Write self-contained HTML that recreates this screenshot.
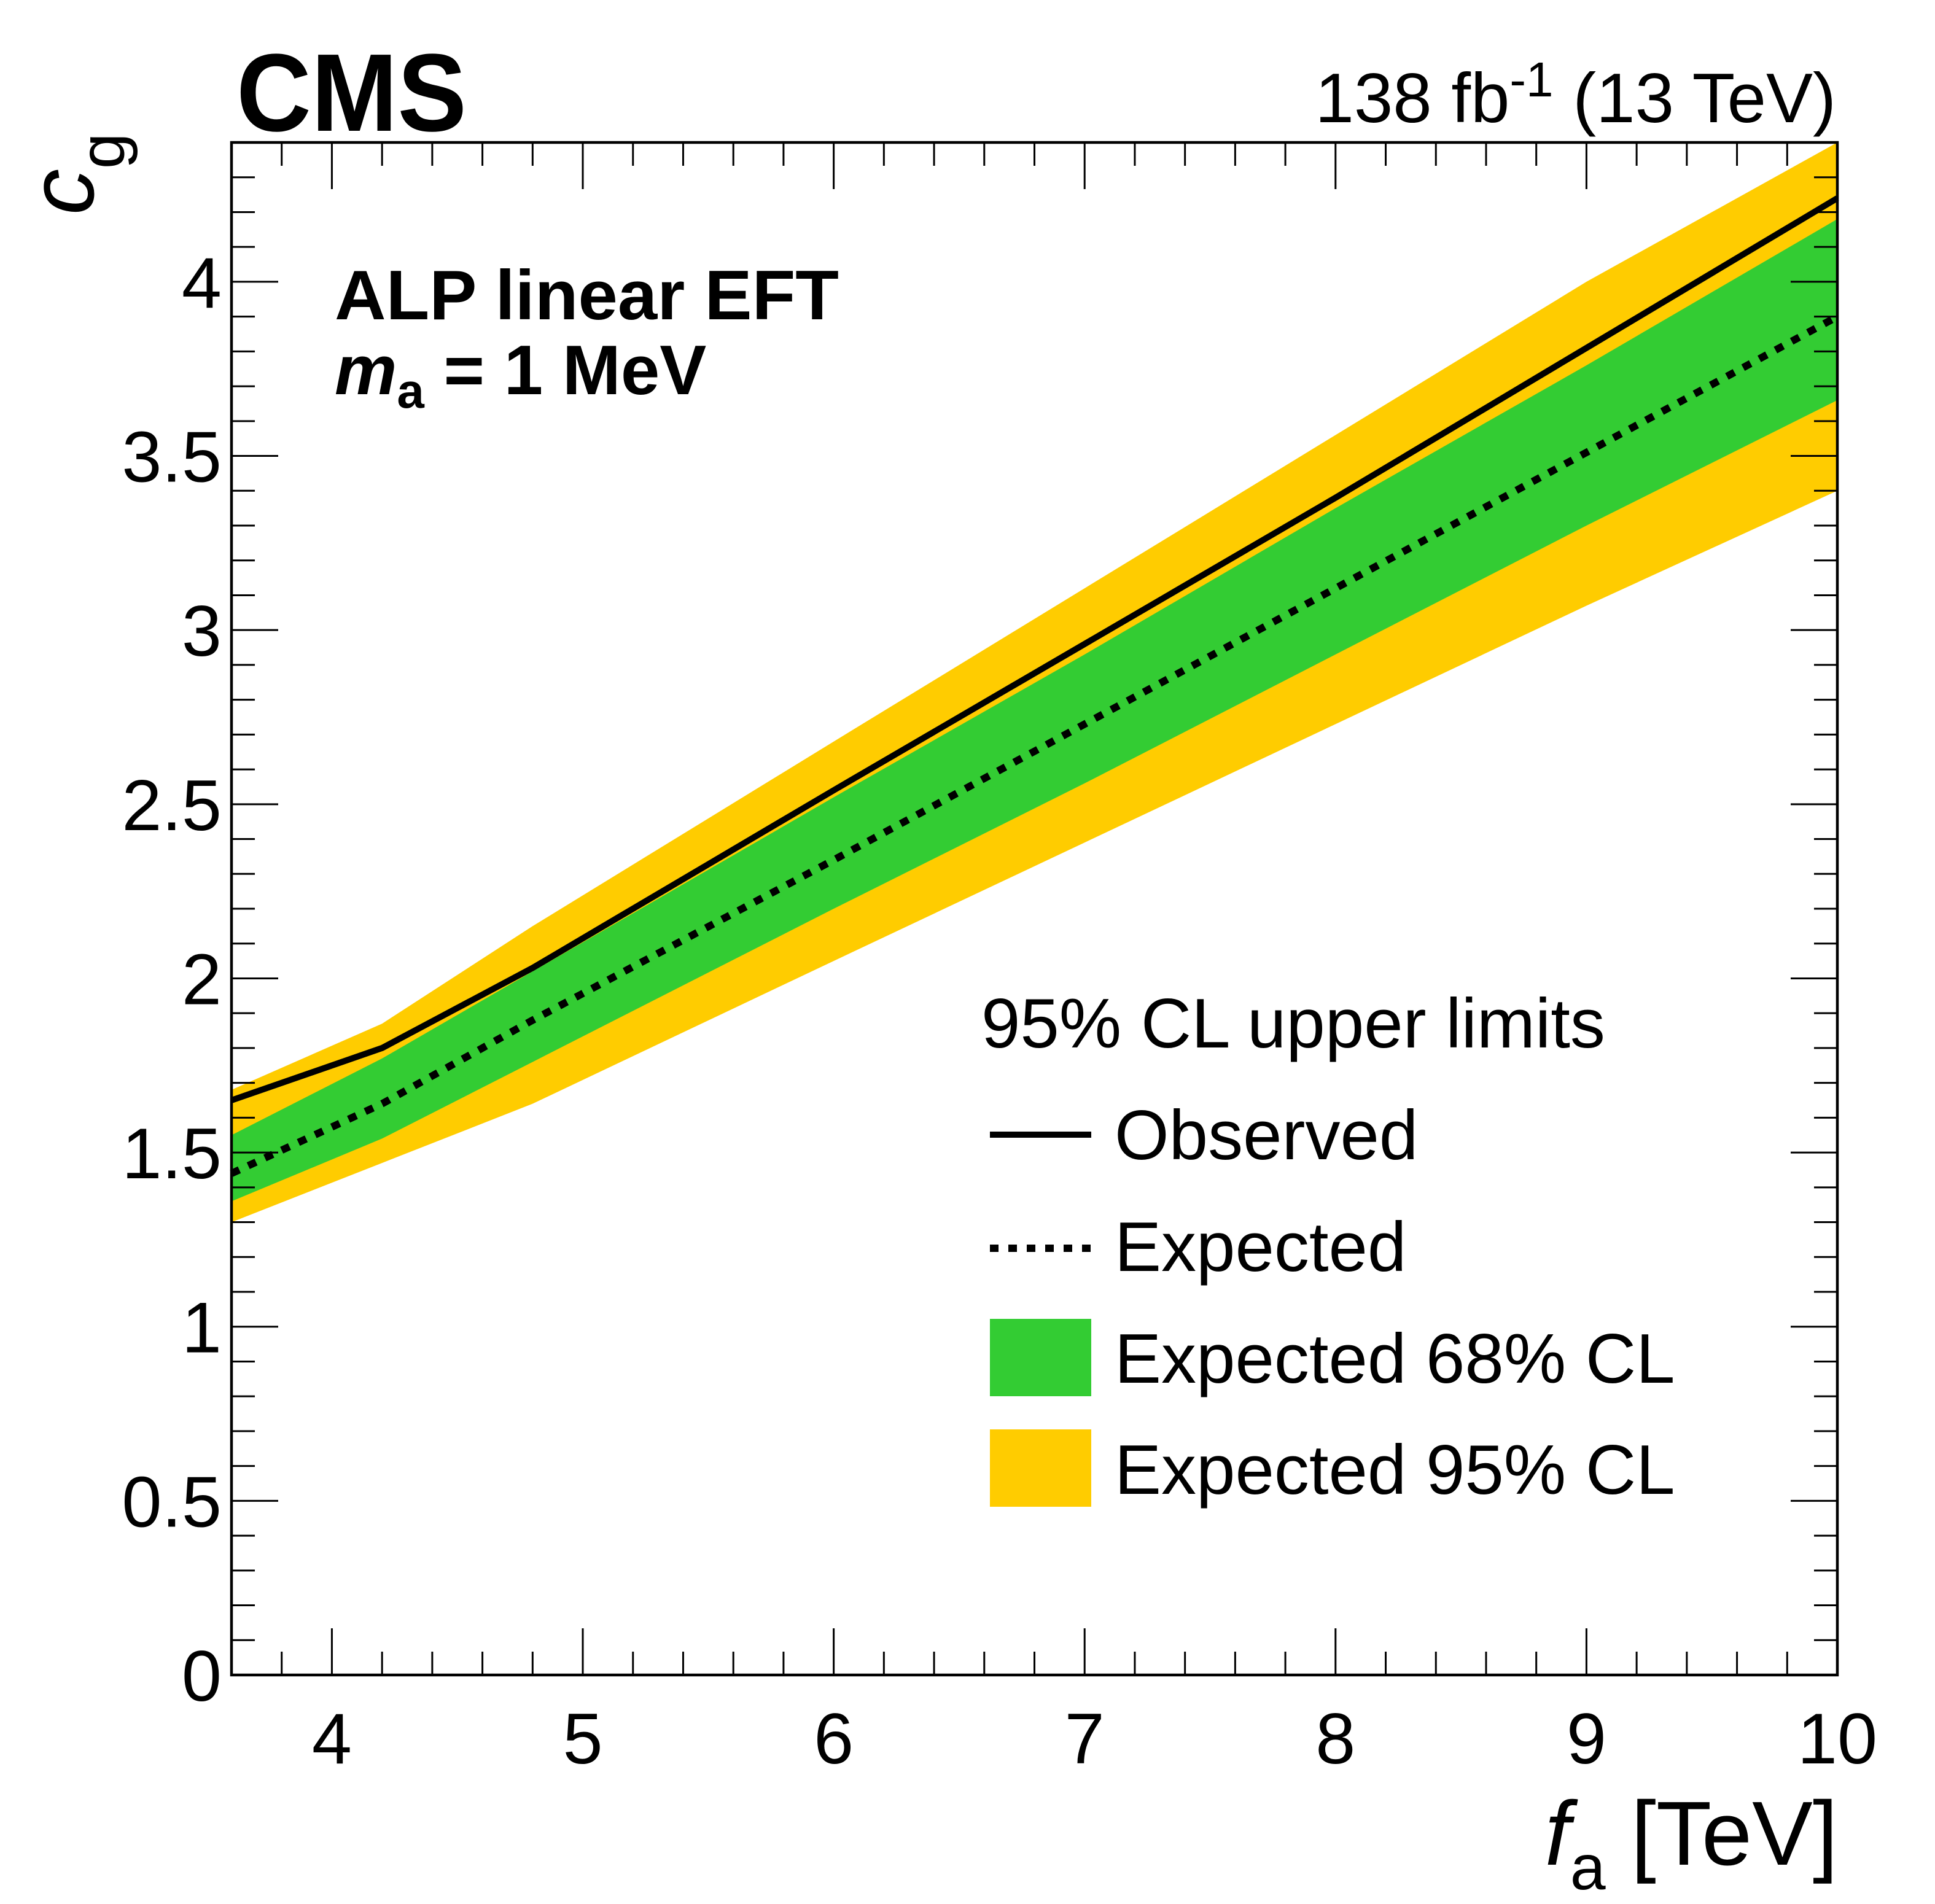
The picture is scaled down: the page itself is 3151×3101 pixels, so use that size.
<!DOCTYPE html>
<html><head><meta charset="utf-8"><style>
html,body{margin:0;padding:0;background:#fff;}
svg{display:block;font-family:"Liberation Sans",Arial,sans-serif;}
</style></head><body>
<svg id="chart" width="3151" height="3101" viewBox="0 0 3151 3101" xmlns="http://www.w3.org/2000/svg">
<rect x="0" y="0" width="3151" height="3101" fill="#fff"/>
<g id="bands"></g>
<g id="lines"></g>
<g id="axes"></g>
<text x="385" y="213" font-size="180" font-weight="bold" textLength="375" lengthAdjust="spacingAndGlyphs">CMS</text>
<text x="2990" y="199" font-size="114" text-anchor="end">138 fb<tspan dy="-42" font-size="80">-1</tspan><tspan dy="42"> (13 TeV)</tspan></text>
<text x="545" y="520" font-size="114" font-weight="bold" textLength="821" lengthAdjust="spacingAndGlyphs">ALP linear EFT</text>
<text x="545" y="642" font-size="114" font-weight="bold"><tspan font-style="italic">m</tspan><tspan font-size="80" dy="22">a</tspan><tspan dy="-22"> = 1 MeV</tspan></text>
<text transform="translate(152,350) rotate(-90)" font-size="150"><tspan font-style="italic">c</tspan><tspan font-size="105" dy="50">g</tspan></text>
<text x="2993" y="3037" font-size="148" text-anchor="end"><tspan font-style="italic">f</tspan><tspan font-size="104" dy="40">a</tspan><tspan dy="-40"> [TeV]</tspan></text>
<g>
<text x="1598" y="1706" font-size="114">95% CL upper limits</text>
<line x1="1612" y1="1848" x2="1777" y2="1848" stroke="#000" stroke-width="10"/>
<text x="1815" y="1888" font-size="114">Observed</text>
<line x1="1612" y1="2033" x2="1777" y2="2033" stroke="#000" stroke-width="12" stroke-dasharray="14 16"/>
<text x="1815" y="2070" font-size="114">Expected</text>
<rect x="1612" y="2148" width="165" height="126" fill="#33cc33"/>
<text x="1815" y="2252" font-size="114">Expected 68% CL</text>
<rect x="1612" y="2328" width="165" height="126" fill="#ffcc00"/>
<text x="1815" y="2433" font-size="114">Expected 95% CL</text>
</g>
</svg>
<script>
const fa = [3.6, 4.2, 4.8, 6, 7, 8, 9, 10];
const observed = [1.65, 1.80, 2.03, 2.54, 2.96, 3.38, 3.81, 4.24];
const expected = [1.44, 1.64, 1.88, 2.34, 2.73, 3.12, 3.51, 3.90];
const up68 = [1.55, 1.77, 2.02, 2.52, 2.93, 3.35, 3.76, 4.18];
const lo68 = [1.36, 1.54, 1.76, 2.20, 2.56, 2.93, 3.30, 3.66];
const up95 = [1.68, 1.87, 2.15, 2.68, 3.12, 3.56, 4.00, 4.40];
const lo95 = [1.30, 1.47, 1.64, 2.05, 2.39, 2.73, 3.07, 3.40];
const xTickLabels = ["4", "5", "6", "7", "8", "9", "10"];
const yTickLabels = ["0", "0.5", "1", "1.5", "2", "2.5", "3", "3.5", "4"];

const NS = "http://www.w3.org/2000/svg";
const X0 = 377, X1 = 2992, Y0 = 2728, Y1 = 232;
const xmin = 3.6, xmax = 10, ymin = 0, ymax = 4.4;
function sx(v){ return X0 + (v - xmin) / (xmax - xmin) * (X1 - X0); }
function sy(v){ return Y0 - (v - ymin) / (ymax - ymin) * (Y0 - Y1); }
function mk(tag, attrs, parent){
  const e = document.createElementNS(NS, tag);
  for (const k in attrs) e.setAttribute(k, attrs[k]);
  parent.appendChild(e);
  return e;
}
const bands = document.getElementById('bands');
const lines = document.getElementById('lines');
const axes = document.getElementById('axes');
function bandPath(up, lo){
  let d = '';
  fa.forEach((x, i) => { d += (i ? 'L' : 'M') + sx(x) + ',' + sy(up[i]); });
  for (let i = fa.length - 1; i >= 0; i--) d += 'L' + sx(fa[i]) + ',' + sy(lo[i]);
  return d + 'Z';
}
function linePath(arr){
  return fa.map((x, i) => (i ? 'L' : 'M') + sx(x) + ',' + sy(arr[i])).join('');
}
const b95 = mk('path', {d: bandPath(up95, lo95), fill: '#ffcc00'}, bands);


const b68 = mk('path', {d: bandPath(up68, lo68), fill: '#33cc33'}, bands);


const le = mk('path', {d: linePath(expected), fill: 'none', stroke: '#000', 'stroke-width': 12, 'stroke-dasharray': '14 16'}, lines);


const lo = mk('path', {d: linePath(observed), fill: 'none', stroke: '#000', 'stroke-width': 10, 'stroke-linejoin': 'round'}, lines);



for (let k = 0; k <= 32; k++) {
  const v = 3.6 + k * 0.2;
  if (v > 10.0001) break;
  const major = Math.abs(v - Math.round(v)) < 1e-6;
  const L = major ? 76 : 38;
  const x = sx(v);
  const t1 = mk('line', {x1: x, y1: Y0, x2: x, y2: Y0 - L, stroke: '#000', 'stroke-width': 3}, axes);
  
  
  const t2 = mk('line', {x1: x, y1: Y1, x2: x, y2: Y1 + L, stroke: '#000', 'stroke-width': 3}, axes);
  
  
}
xTickLabels.forEach(s => {
  const v = parseFloat(s);
  const t = mk('text', {x: sx(v), y: 2872, 'font-size': 117, 'text-anchor': 'middle'}, axes);
  
  
  t.textContent = s;
});
for (let k = 0; k <= 44; k++) {
  const v = k * 0.1;
  const major = k % 5 === 0;
  const L = major ? 76 : 38;
  const y = sy(v);
  const t1 = mk('line', {x1: X0, y1: y, x2: X0 + L, y2: y, stroke: '#000', 'stroke-width': 3}, axes);
  
  
  const t2 = mk('line', {x1: X1, y1: y, x2: X1 - L, y2: y, stroke: '#000', 'stroke-width': 3}, axes);
  
  
}
yTickLabels.forEach(s => {
  const v = parseFloat(s);
  const t = mk('text', {x: 361, y: sy(v) + 42, 'font-size': 117, 'text-anchor': 'end'}, axes);
  
  
  t.textContent = s;
});
const frame = mk('rect', {x: X0, y: Y1, width: X1 - X0, height: Y0 - Y1, fill: 'none', stroke: '#000', 'stroke-width': 4.5}, axes);


</script>
</body></html>
